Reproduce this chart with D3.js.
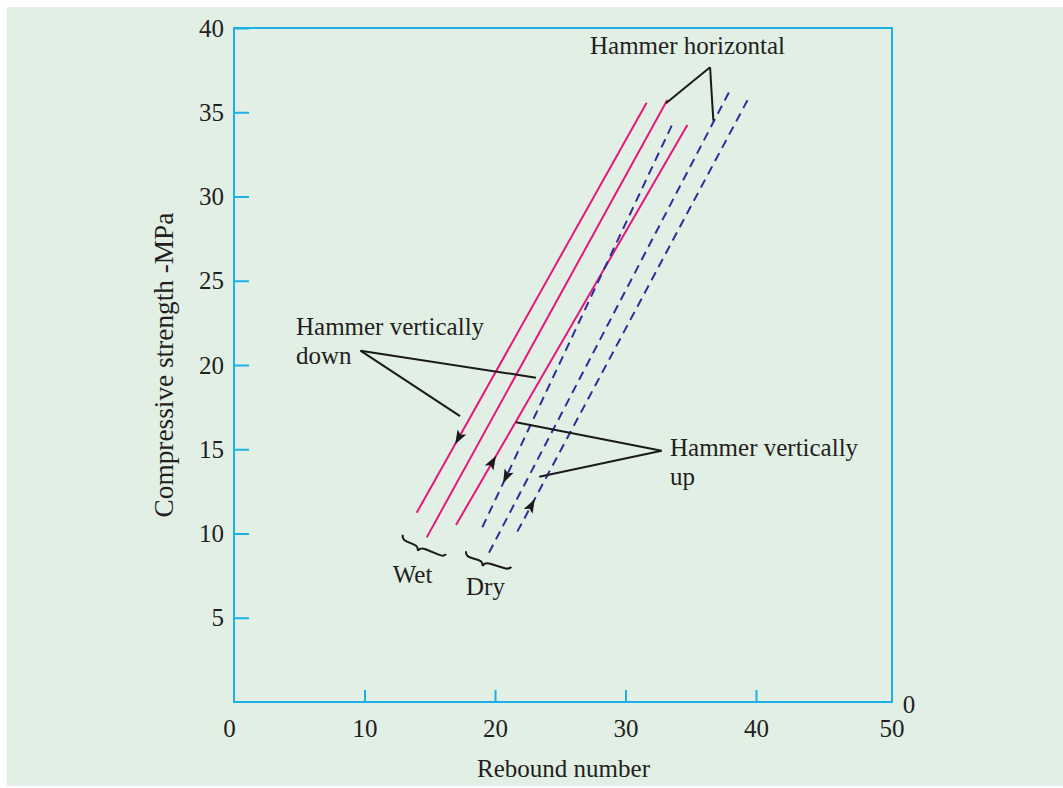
<!doctype html>
<html>
  <head>
    <meta charset="utf-8">
    <title>Rebound number vs compressive strength</title>
    <script src="https://cdnjs.cloudflare.com/ajax/libs/d3/7.8.5/d3.min.js"></script>
    <style>
      body { margin: 0; background: #fff; }
      text { font-family: "Liberation Serif", "Times New Roman", serif; fill: #231f20; }
    </style>
  </head>
  <body>
    <div id="chart"></div>
    <script>
      // data (rebound number, MPa)
      const condition = ['wet', 'wet', 'wet', 'dry', 'dry', 'dry'];
      const position  = ['down', 'horizontal', 'up', 'down', 'horizontal', 'up'];
      const xStart = [14.00, 14.77, 17.01, 19.03, 19.54, 21.71];
      const yStart = [11.23, 9.77, 10.50, 10.37, 8.86, 10.11];
      const xEnd   = [31.62, 33.20, 34.74, 33.72, 37.95, 39.49];
      const yEnd   = [35.57, 35.73, 34.24, 34.50, 36.22, 35.92];
      // where the little arrows sit along each line (fraction from bottom)
      const arrowAt = [0.182, null, 0.158, 0.124, null, 0.061];

      const xTicks = [0, 10, 20, 30, 40, 50];
      const yTicks = [5, 10, 15, 20, 25, 30, 35, 40];

      // annotation leaders: [from, to] in data units
      const leaderHoriz = [[[36.48, 37.67], [33.10, 35.53]], [[36.48, 37.67], [36.73, 34.50]]];
      const leaderDown  = [[[9.69, 20.85], [23.14, 19.25]], [[9.69, 20.85], [17.32, 16.97]]];
      const leaderUp    = [[[32.77, 14.91], [21.61, 16.60]], [[32.77, 14.91], [23.39, 13.37]]];
      const braces = [
        { label: 'Wet', from: [12.93, 9.75], to: [16.30, 8.68], labelX: 12.16 },
        { label: 'Dry', from: [17.78, 8.77], to: [21.28, 7.93], labelX: 17.78 }
      ];

      const W = 1063, H = 788;
      const x = d3.scaleLinear().domain([0, 50]).range([234, 886.5]);
      const y = d3.scaleLinear().domain([0, 40]).range([702, 28]);
      const xFrameMax = 50.42;  // the box runs a little past the 50 mark

      const axisColor = '#1cb1e6';
      const wetColor = '#e6177c';
      const dryColor = '#2b2f9c';

      const svg = d3.select('#chart').append('svg')
        .attr('width', W)
        .attr('height', H);

      svg.append('rect')
        .attr('x', 7).attr('y', 7)
        .attr('width', W - 7).attr('height', H - 9)
        .attr('fill', '#e2efe5');

      // frame
      svg.append('rect')
        .attr('x', x(0)).attr('y', y(40))
        .attr('width', x(xFrameMax) - x(0)).attr('height', y(0) - y(40))
        .attr('fill', 'none')
        .attr('stroke', axisColor)
        .attr('stroke-width', 2);

      // axes, ticks pointing inward
      const gx = svg.append('g')
        .attr('transform', `translate(0,${y(0)})`)
        .call(d3.axisBottom(x).tickValues(xTicks).tickSize(-12).tickPadding(17).tickFormat(d3.format('d')));
      const gy = svg.append('g')
        .attr('transform', `translate(${x(0)},0)`)
        .call(d3.axisLeft(y).tickValues(yTicks).tickSize(-15).tickPadding(10).tickFormat(d3.format('d')));

      [gx, gy].forEach(g => {
        g.select('.domain').remove();
        g.selectAll('.tick line').attr('stroke', axisColor).attr('stroke-width', 2);
        g.selectAll('.tick text')
          .attr('fill', '#231f20')
          .style('font-family', '"Liberation Serif", serif')
          .style('font-size', '25px');
      });
      gx.selectAll('.tick text').filter(d => d === 0).attr('x', -5);
      gx.selectAll('.tick text').filter(d => d === 50).attr('x', 5);
      gx.selectAll('.tick line').filter(d => d === 0 || d === 50).remove();

      // stray zero at the right end of the x axis
      svg.append('text')
        .attr('x', x(xFrameMax) + 17).attr('y', y(0) + 11)
        .attr('text-anchor', 'middle')
        .style('font-size', '25px')
        .text('0');

      // axis titles
      svg.append('text')
        .attr('x', x(25.25)).attr('y', 777)
        .attr('text-anchor', 'middle')
        .style('font-size', '25px')
        .text('Rebound number');
      svg.append('text')
        .attr('transform', `translate(173,${y(20)}) rotate(-90)`)
        .attr('text-anchor', 'middle')
        .style('font-size', '27.3px')
        .text('Compressive strength -MPa');

      // the six lines
      const idx = d3.range(condition.length);
      svg.selectAll('line.series')
        .data(idx)
        .join('line')
        .attr('class', 'series')
        .attr('x1', i => x(xStart[i]))
        .attr('y1', i => y(yStart[i]))
        .attr('x2', i => x(xEnd[i]))
        .attr('y2', i => y(yEnd[i]))
        .attr('stroke', i => condition[i] === 'wet' ? wetColor : dryColor)
        .attr('stroke-width', 2)
        .attr('stroke-dasharray', i => condition[i] === 'dry' ? '9,6' : null);

      // arrowheads
      svg.selectAll('path.arrow')
        .data(idx.filter(i => arrowAt[i] !== null))
        .join('path')
        .attr('class', 'arrow')
        .attr('d', 'M7,0 L-7,-5 L-4,0 L-7,5 Z')
        .attr('fill', '#1a1a1a')
        .attr('transform', i => {
          const t = arrowAt[i];
          const px = x(xStart[i]) + t * (x(xEnd[i]) - x(xStart[i]));
          const py = y(yStart[i]) + t * (y(yEnd[i]) - y(yStart[i]));
          let a = Math.atan2(y(yEnd[i]) - y(yStart[i]), x(xEnd[i]) - x(xStart[i])) * 180 / Math.PI;
          if (position[i] === 'down') a += 180;
          return `translate(${px},${py}) rotate(${a})`;
        });

      // leader lines
      svg.selectAll('line.leader')
        .data([...leaderHoriz, ...leaderDown, ...leaderUp])
        .join('line')
        .attr('class', 'leader')
        .attr('x1', d => x(d[0][0])).attr('y1', d => y(d[0][1]))
        .attr('x2', d => x(d[1][0])).attr('y2', d => y(d[1][1]))
        .attr('stroke', '#1a1a1a')
        .attr('stroke-width', 2);

      // annotation labels
      function label(lines, lx, ly) {
        const t = svg.append('text')
          .attr('x', x(lx)).attr('y', y(ly))
          .style('font-size', '25px');
        lines.forEach((s, k) => t.append('tspan')
          .attr('x', x(lx)).attr('dy', k === 0 ? 0 : 29).text(s));
      }
      label(['Hammer horizontal'], 27.28, 38.46);
      label(['Hammer vertically', 'down'], 4.75, 21.78);
      label(['Hammer vertically', 'up'], 33.41, 14.61);

      // curly braces for wet / dry groups
      function bracePath(L, h) {
        return `M0,0 Q1,${h * 0.6} ${L * 0.14},${h * 0.6} L${L * 0.3},${h * 0.6} ` +
          `Q${L * 0.4},${h * 0.6} ${L * 0.42},${h * 1.15} Q${L * 0.44},${h * 0.6} ${L * 0.56},${h * 0.6} ` +
          `L${L * 0.86},${h * 0.6} Q${L - 1},${h * 0.6} ${L},${h * 0.2}`;
      }
      braces.forEach(b => {
        const x0 = x(b.from[0]), y0 = y(b.from[1]);
        const x1 = x(b.to[0]), y1 = y(b.to[1]);
        const L = Math.hypot(x1 - x0, y1 - y0);
        const a = Math.atan2(y1 - y0, x1 - x0) * 180 / Math.PI;
        svg.append('path')
          .attr('d', bracePath(L, 8))
          .attr('transform', `translate(${x0},${y0 - 3}) rotate(${a})`)
          .attr('fill', 'none')
          .attr('stroke', '#1a1a1a')
          .attr('stroke-width', 2);
        svg.append('text')
          .attr('x', x(b.labelX)).attr('y', Math.max(y0, y1) + 27)
          .style('font-size', '25px')
          .text(b.label);
      });
    </script>
  </body>
</html>
